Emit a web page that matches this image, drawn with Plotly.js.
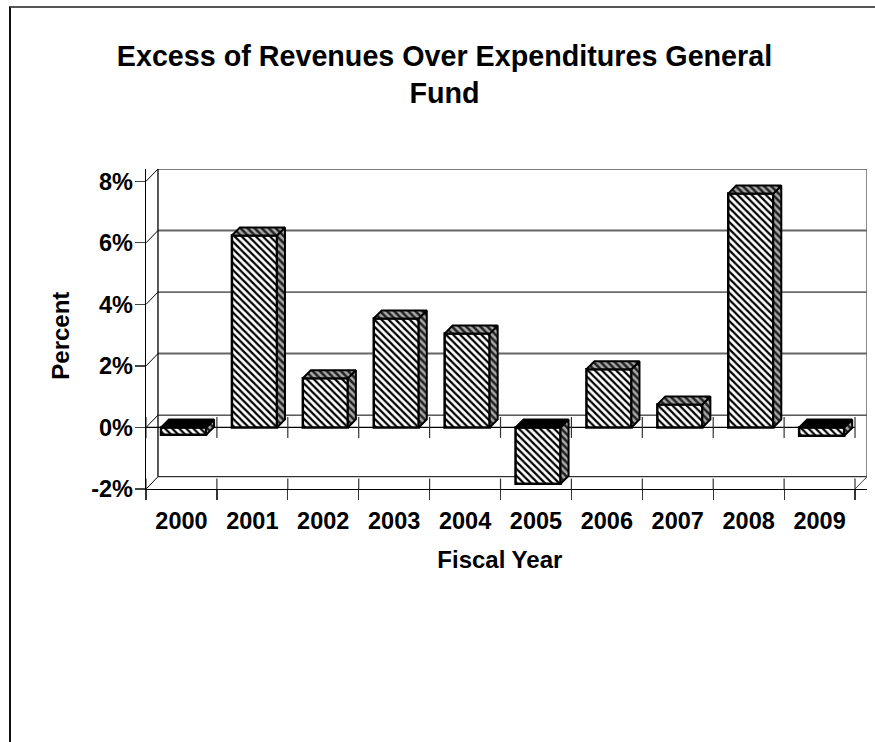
<!DOCTYPE html>
<html>
<head>
<meta charset="utf-8">
<script src="https://cdn.plot.ly/plotly-3.0.1.min.js"></script>
<style>
html,body{margin:0;padding:0;background:#fff;overflow:hidden}
#frame{position:absolute;left:9px;top:6px;width:866px;height:736px;border-left:2px solid #111;border-top:2px solid #555;box-sizing:border-box;pointer-events:none}
#chart{position:absolute;left:0;top:0;width:875px;height:742px}
</style>
</head>
<body>
<div id="chart"></div>
<div id="frame"></div>
<script>
const categories = ['2000','2001','2002','2003','2004','2005','2006','2007','2008','2009'];
const values = [-0.24, 6.24, 1.6, 3.54, 3.05, -1.83, 1.89, 0.75, 7.6, -0.27];
const yTicks = [-2, 0, 2, 4, 6, 8];
const yTickText = ['-2%', '0%', '2%', '4%', '6%', '8%'];

const barWidth = 0.635, barOffset = -0.288;
const depthX = 0.113, depthY = 0.26;     // bar depth in axis units
const wallX = 0.169, wallY = 0.4;        // wall depth in axis units
const xMin = -0.5, xMax = 9.5, yMin = -2, yMax = 8;

const idx = categories.map((_, i) => i);

// Faces of the 3D bars, derived from the values
const sideFace = {x: [], y: []}, topFace = {x: [], y: []}, topDark = {x: [], y: []};
values.forEach((v, i) => {
  const x0 = i + barOffset, x1 = x0 + barWidth;
  const hi = Math.max(v, 0), lo = Math.min(v, 0);
  sideFace.x.push(x1, x1 + depthX, x1 + depthX, x1, x1, null);
  sideFace.y.push(lo, lo + depthY, hi + depthY, hi, lo, null);
  const t = v < 0 ? topDark : topFace;
  t.x.push(x0, x0 + depthX, x1 + depthX, x1, x0, null);
  t.y.push(hi, hi + depthY, hi + depthY, hi, hi, null);
});

// Cabinet lines, in axis units
function seg(x0, y0, x1, y1, color, width) {
  return {type: 'line', layer: 'below', xref: 'x', yref: 'y', x0, y0, x1, y1,
          line: {color: color, width: width}};
}
const shapes = [];
yTicks.forEach(t => {
  const gray = (t === 6 || t === 2);
  shapes.push(seg(xMin + wallX, t + wallY, xMax + wallX, t + wallY, gray ? '#666' : '#000', gray ? 2 : 1));
  shapes.push(seg(xMin, t, xMin + wallX, t + wallY, '#000', 1));
});
shapes.push(seg(xMin + wallX, yMin + wallY, xMin + wallX, yMax + wallY, '#000', 1.3));
shapes.push(seg(xMax + wallX, yMin + wallY, xMax + wallX, yMax + wallY, '#666', 1.5));
shapes.push(seg(xMax, yMin, xMax + wallX, yMin + wallY, '#444', 1));
shapes.push(seg(xMin, 0, xMax, 0, '#000', 1.3));
for (let i = 0; i <= categories.length; i++) {
  const b = xMin + i;
  shapes.push(seg(b, -0.34, b, 0.34, '#333', 1.2));
  shapes.push(seg(b, yMin, b, yMin + 0.34, '#333', 1.2));
}

const hatch = {shape: '\\', size: 5, solidity: 0.45, fgcolor: '#000', bgcolor: '#fff', fillmode: 'replace'};
const darkHatch = {shape: '\\', size: 5, solidity: 0.5, fgcolor: '#222', bgcolor: '#aaa', fillmode: 'replace'};

const traces = [
  {type: 'bar', x: idx, y: values, width: barWidth, offset: barOffset, showlegend: false, hoverinfo: 'skip',
   marker: {color: '#fff', pattern: hatch, line: {color: '#000', width: 2.5}}},
  {type: 'scatter', mode: 'lines', x: sideFace.x, y: sideFace.y, fill: 'toself', fillcolor: '#777', fillpattern: darkHatch,
   line: {color: '#000', width: 2}, showlegend: false, hoverinfo: 'skip', cliponaxis: false},
  {type: 'scatter', mode: 'lines', x: topFace.x, y: topFace.y, fill: 'toself', fillcolor: '#888', fillpattern: darkHatch,
   line: {color: '#000', width: 2}, showlegend: false, hoverinfo: 'skip', cliponaxis: false},
  {type: 'scatter', mode: 'lines', x: topDark.x, y: topDark.y, fill: 'toself', fillcolor: '#000',
   line: {color: '#000', width: 2}, showlegend: false, hoverinfo: 'skip', cliponaxis: false}
];

const boldFont = (size) => ({family: '"Liberation Sans", Arial, sans-serif', size: size, color: '#000', weight: 700});

const layout = {
  width: 875, height: 742,
  margin: {l: 146, r: 8, t: 169, b: 252.5, pad: 0},
  paper_bgcolor: '#fff', plot_bgcolor: '#fff',
  showlegend: false,
  bargap: 0,
  title: {
    text: '<b>Excess of Revenues Over Expenditures General<br>Fund</b>',
    font: boldFont(28.7), x: 444.5 / 875, xanchor: 'center', y: 1 - 65.5 / 742, yanchor: 'middle'
  },
  xaxis: {
    range: [xMin, xMax + wallX], tickmode: 'array', tickvals: idx, ticktext: categories,
    ticks: '', ticklen: 0, showgrid: false, zeroline: false,
    showline: true, linecolor: '#000', linewidth: 1.3,
    tickfont: boldFont(23.5), ticklabelstandoff: 10,
    minor: {tickmode: 'array', tickvals: idx.map(i => i - 0.5).concat([xMax]), ticks: 'outside', ticklen: 10, tickcolor: '#333', tickwidth: 1.2, showgrid: false},
    title: {text: '<b>Fiscal Year&#160;&#160;</b>', font: boldFont(24), standoff: 18}
  },
  yaxis: {
    range: [yMin, yMax + wallY], tickmode: 'array', tickvals: yTicks, ticktext: yTickText,
    ticks: 'outside', ticklen: 10, tickcolor: '#444', tickwidth: 1.2, showgrid: false, zeroline: false,
    showline: true, linecolor: '#000', linewidth: 1.3,
    tickfont: boldFont(23.5), ticklabelstandoff: -3,
    title: {text: '<b>Percent&#160;&#160;</b>', font: boldFont(24), standoff: 14}
  },
  shapes: shapes
};

Plotly.newPlot('chart', traces, layout, {staticPlot: true, displayModeBar: false});
</script>
</body>
</html>
